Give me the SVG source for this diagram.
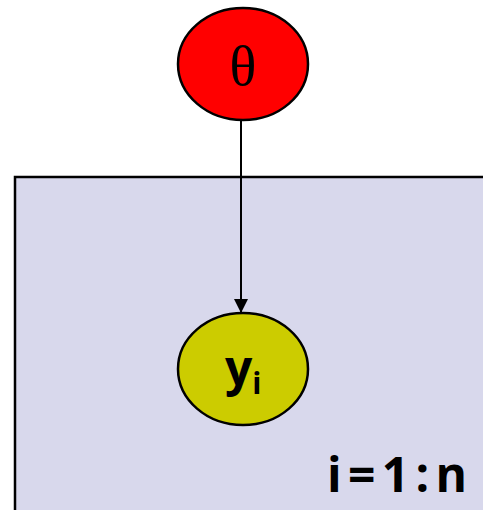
<svg xmlns="http://www.w3.org/2000/svg" width="483" height="510" viewBox="0 0 483 510">
<style>
.node{stroke:#000;stroke-width:2.5}
.lbl{font-family:"Open Sans","Liberation Sans",sans-serif;font-weight:bold;fill:#000}
</style>
<defs>
<marker id="ah" viewBox="0 0 14 14" refX="14" refY="7" markerWidth="14" markerHeight="14" markerUnits="userSpaceOnUse" orient="auto">
<path d="M0,0 L14,7 L0,14 z" fill="#000"/>
</marker>
</defs>
<g id="plate">
<rect x="15" y="177" width="480" height="345" fill="#d8d8ec" stroke="#000" stroke-width="2.5"/>
<text class="lbl" x="467" y="492" font-size="48" text-anchor="end" textLength="140" lengthAdjust="spacing">i=1:n</text>
</g>
<g id="edges">
<line x1="241" y1="120" x2="241" y2="313" stroke="#000" stroke-width="2" marker-end="url(#ah)"/>
</g>
<g id="theta">
<ellipse class="node" cx="243" cy="64" rx="65" ry="56" fill="#ff0000"/>
<text x="243" y="85" font-family="'Liberation Serif','DejaVu Serif',serif" font-size="56" text-anchor="middle" fill="#000">θ</text>
</g>
<g id="yi">
<ellipse class="node" cx="243" cy="369" rx="65" ry="56" fill="#cccc00"/>
<text class="lbl" x="225" y="385" font-size="48">y<tspan font-size="30" dy="9">i</tspan></text>
</g>
</svg>
